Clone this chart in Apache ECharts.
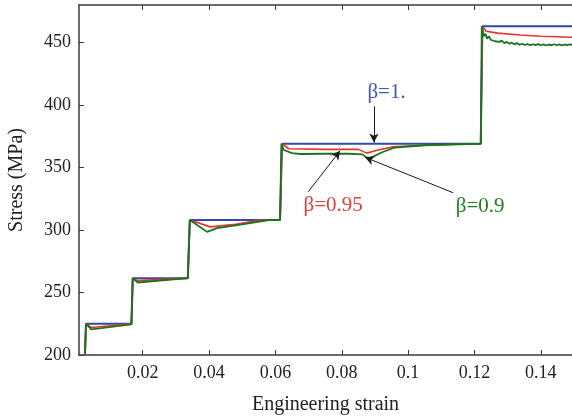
<!DOCTYPE html>
<html><head><meta charset="utf-8">
<script src="https://cdn.jsdelivr.net/npm/echarts@6/dist/echarts.min.js"></script>
<style>html,body{margin:0;padding:0;background:#fff}#c{width:572px;height:419px}</style>
</head><body><div id="c"></div>
<script>
// ---- data ----
const xTicks = [0.02, 0.04, 0.06, 0.08, 0.1, 0.12, 0.14];
const xTickLabels = ['0.02', '0.04', '0.06', '0.08', '0.1', '0.12', '0.14'];
const yTicks = [200, 250, 300, 350, 400, 450];

const blueX = [0.0026, 0.0029, 0.0166, 0.0170, 0.0336, 0.0342, 0.0614, 0.0620, 0.1219, 0.1224, 0.1494];
const blueY = [200, 225, 225, 261.5, 261.5, 308, 308, 369, 369, 463, 463];

const redX = [0.0026, 0.0029, 0.0045, 0.0166, 0.0170, 0.0185, 0.0336, 0.0342, 0.0404, 0.0480, 0.0555, 0.0614,
  0.0620, 0.0640, 0.0750, 0.0850, 0.0875, 0.0910, 0.0955, 0.1050, 0.1150, 0.1219,
  0.1224, 0.1235, 0.1270, 0.1337, 0.1400, 0.1450, 0.1494];
const redY = [200, 225, 222, 225, 261.5, 259.5, 261.5, 308, 302.5, 304.5, 308, 308,
  369, 365, 364.5, 364.5, 361.5, 364, 366.5, 367.8, 368.6, 369,
  463, 459, 457.5, 456, 455, 454.6, 454.2];

const greenX = [0.0026, 0.0029, 0.0045, 0.0166, 0.0170, 0.0185, 0.0336, 0.0342, 0.0394, 0.0424, 0.0500, 0.0580, 0.0614,
  0.0618, 0.0625, 0.0650, 0.0675, 0.0750, 0.0820, 0.0862, 0.0875, 0.0885, 0.0920, 0.0960, 0.1050, 0.1150, 0.1219,
  0.1222, 0.1228, 0.1233, 0.1238, 0.1243, 0.1250, 0.1256, 0.1262, 0.1268, 0.1275, 0.1282, 0.1290, 0.1297, 0.1305,
  0.1312, 0.1320, 0.1328, 0.1336, 0.1344, 0.1352, 0.1360, 0.1368, 0.1376, 0.1384, 0.1392, 0.1400, 0.1408, 0.1416,
  0.1424, 0.1432, 0.1440, 0.1448, 0.1456, 0.1464, 0.1472, 0.1480, 0.1488, 0.1494];
const greenY = [200, 225, 220.5, 224.5, 261.5, 258, 261.5, 308, 298.5, 301.5, 304.5, 308, 308,
  369, 364, 361.5, 360.8, 361, 361, 360.5, 358, 357.5, 362, 366, 367.8, 368.6, 369,
  463, 455, 457, 453, 455, 452, 453.5, 451, 452.5, 450.5, 451.5, 449.5, 450.5, 449,
  450, 448.5, 449.5, 448.2, 449, 448, 448.8, 447.8, 448.6, 447.9, 448.7, 447.8, 448.5, 447.6,
  448.4, 447.9, 448.6, 447.8, 448.5, 447.7, 448.4, 447.9, 448.5, 448.2];

const labelNames = ['β=1.', 'β=0.95', 'β=0.9'];
const labelPos = [[0.0935, 410], [0.0774, 320], [0.1217, 318.6]];
const arrowFrom = [[0.0897, 399], [0.0699, 330.6], [0.1136, 329.8]];
const arrowTo = [[0.0897, 370], [0.0795, 363.4], [0.0870, 358.2]];

// ---- styles ----
const cBlue = '#3447ad', cRed = '#e8322c', cGreen = '#17761a';
const txtColors = ['#4255b8', '#e8393a', '#1f7f1f'];
const font = 'Liberation Serif';
const axisCol = '#3a3a3a';

const zip = (xs, ys) => xs.map((x, i) => [x, ys[i]]);

const chart = echarts.init(document.getElementById('c'));
chart.setOption({
  animation: false,
  grid: { left: 79, right: 0, top: 5, bottom: 64, containLabel: false, outerBoundsMode: 'none' },
  xAxis: [{
    type: 'value', min: 0.0008, max: 0.1494, position: 'bottom',
    name: 'Engineering strain', nameLocation: 'middle', nameGap: 40,
    nameTextStyle: { fontFamily: font, fontSize: 20, color: '#222' },
    axisLine: { show: true, onZero: false, lineStyle: { color: axisCol, width: 1.5 } },
    axisTick: { show: true, inside: true, length: 5, customValues: xTicks, lineStyle: { color: axisCol } },
    axisLabel: { customValues: xTicks, margin: 9, fontFamily: font, fontSize: 18, color: '#222',
      formatter: v => { const i = xTicks.findIndex(t => Math.abs(t - v) < 1e-9); return i >= 0 ? xTickLabels[i] : ''; } },
    splitLine: { show: false }
  }, {
    type: 'value', min: 0.0008, max: 0.1494, position: 'top',
    axisLine: { show: true, onZero: false, lineStyle: { color: axisCol, width: 1.5 } },
    axisTick: { show: true, inside: true, length: 5, customValues: xTicks, lineStyle: { color: axisCol } },
    axisLabel: { show: false },
    splitLine: { show: false }
  }],
  yAxis: {
    type: 'value', min: 200, max: 480,
    name: 'Stress (MPa)', nameLocation: 'middle', nameGap: 52,
    nameTextStyle: { fontFamily: font, fontSize: 20, color: '#222' },
    axisLine: { show: true, lineStyle: { color: axisCol, width: 1.5 } },
    axisTick: { show: true, inside: true, length: 5, customValues: yTicks, lineStyle: { color: axisCol } },
    axisLabel: { customValues: yTicks, margin: 8, fontFamily: font, fontSize: 18, color: '#222' },
    splitLine: { show: false }
  },
  series: [
    { type: 'line', data: zip(blueX, blueY), showSymbol: false, lineStyle: { color: cBlue, width: 2 }, z: 2 },
    { type: 'line', data: zip(redX, redY), showSymbol: false, lineStyle: { color: cRed, width: 1.6 }, z: 3 },
    { type: 'line', data: zip(greenX, greenY), showSymbol: false, lineStyle: { color: cGreen, width: 1.8 }, z: 4 },
    {
      type: 'line', data: [], z: 5,
      markLine: {
        silent: true, animation: false,
        symbol: ['none', 'arrow'], symbolSize: [7, 9],
        lineStyle: { color: '#1a1a1a', width: 1, type: 'solid' },
        label: { show: false },
        data: arrowFrom.map((f, i) => [{ coord: f }, { coord: arrowTo[i] }])
      },
      markPoint: {
        silent: true, animation: false,
        data: labelNames.map((n, i) => ({
          coord: labelPos[i], symbol: 'circle', symbolSize: 1,
          itemStyle: { color: 'rgba(0,0,0,0)' },
          label: { show: true, position: 'inside', formatter: n, color: txtColors[i], fontFamily: font, fontSize: 21 }
        }))
      }
    }
  ]
});
</script></body></html>
